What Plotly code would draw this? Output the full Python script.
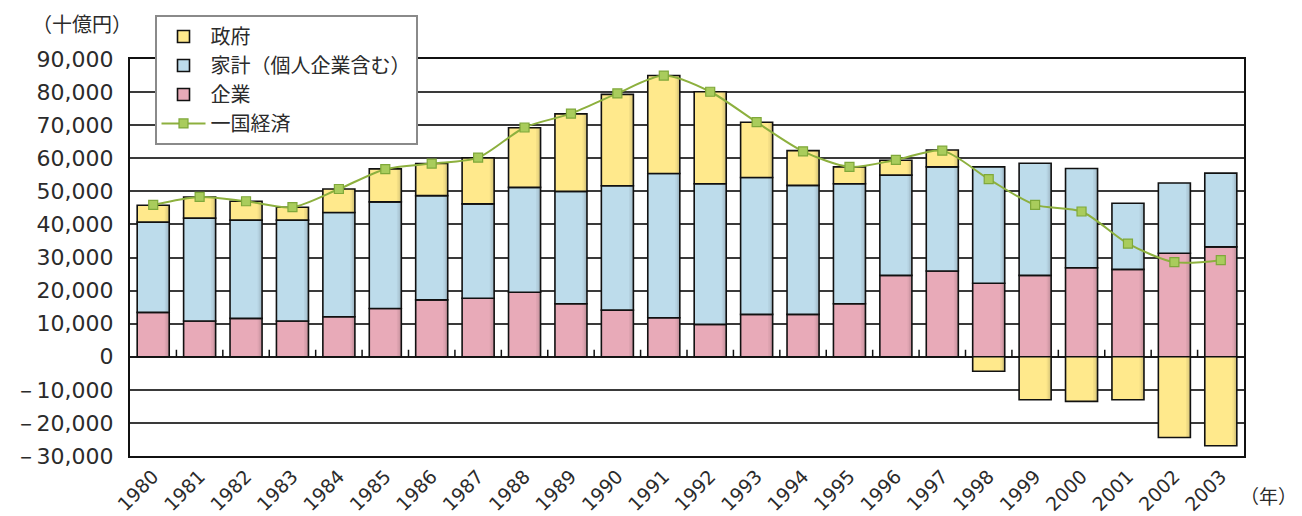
import plotly.graph_objects as go

# 年別の貯蓄投資差額（十億円）
years = [str(y) for y in range(1980, 2004)]

corporate = [13400, 10800, 11600, 10800, 12100, 14600, 17200, 17700, 19500, 16000,
             14100, 11800, 9800, 12800, 12800, 16000, 24600, 25900, 22200, 24600,
             26900, 26400, 31300, 33200]
household = [27300, 31100, 29700, 30500, 31500, 32200, 31500, 28500, 31700, 34000,
             37600, 43600, 42500, 41400, 39000, 36300, 30300, 31500, 35200, 33900,
             30000, 20000, 21200, 22300]
government = [5100, 6400, 5700, 3900, 7100, 10000, 9700, 13900, 18000, 23400,
              27600, 29600, 27800, 16700, 10500, 5100, 4500, 5100, -4400, -13000,
              -13500, -13000, -24400, -26900]
national = [45900, 48300, 47000, 45200, 50700, 56700, 58400, 60200, 69300, 73500,
            79600, 85000, 80100, 70900, 62100, 57400, 59500, 62300, 53700, 45900,
            43900, 34200, 28600, 29200]

y_ticks = list(range(-30000, 90001, 10000))
y_tick_text = [("－" if v < 0 else "") + f"{abs(v):,}" for v in y_ticks]

TEXT = "#2b2b2b"
NUM_FONT = "DejaVu Sans"
JP_FONT = "Noto Sans CJK JP"
OUTLINE = dict(color="#111111", width=1.6)
BARGAP = 0.31
HALF = (1 - BARGAP) / 2
X_RANGE = [-0.5, 23.5]

series = [
    ("企業", corporate, "#E8AAB8", 3),
    ("家計（個人企業含む）", household, "#BDDCEB", 2),
    ("政府", government, "#FFE98C", 1),
]

fig = go.Figure()

for name, vals, color, rank in series:
    fig.add_trace(go.Bar(x=years, y=vals, name=name, legendrank=rank,
                         marker=dict(color=color, line=OUTLINE)))

# soft shading along the right edge of each bar, built from a few
# translucent strips stacked on their own overlay axes
strips = [("x2", 0.095, 0.05), ("x3", 0.06, 0.07), ("x4", 0.03, 0.10)]
for axis, w, alpha in strips:
    for name, vals, color, rank in series:
        fig.add_trace(go.Bar(x=years, y=vals, xaxis=axis, width=w, offset=HALF - w,
                             marker=dict(color=f"rgba(40,40,40,{alpha})", line=dict(width=0)),
                             hoverinfo="skip", showlegend=False))

# the national total drawn on the topmost overlay axis
fig.add_trace(go.Scatter(x=years, y=national, name="一国経済", legendrank=4,
                         xaxis="x5", mode="lines+markers",
                         line=dict(color="#8DB03E", width=2, shape="spline", smoothing=0.8),
                         marker=dict(symbol="square", size=9, color="#A9CC5C",
                                     line=dict(color="#7FA83A", width=1.2))))

overlay = dict(type="category", categoryarray=years, range=X_RANGE,
               overlaying="x", showticklabels=False, showgrid=False,
               showline=False, zeroline=False, ticks="")

# small boundary ticks standing on the zero line, between neighbouring years
zero_ticks = [
    dict(type="line", xref="x", yref="y", x0=i + 0.5, x1=i + 0.5,
         ysizemode="pixel", yanchor=0, y0=0, y1=7,
         line=dict(color="#111111", width=1.5), layer="above")
    for i in range(len(years) - 1)
]

fig.update_layout(
    width=1302, height=516,
    margin=dict(l=130, r=58, t=59, b=60, autoexpand=False),
    paper_bgcolor="white", plot_bgcolor="white",
    barmode="relative", bargap=BARGAP,
    font=dict(family=JP_FONT, color=TEXT),
    showlegend=True,
    legend=dict(x=0.022, y=1.111, xanchor="left", yanchor="top",
                traceorder="normal", bgcolor="white",
                bordercolor="#8a8a8a", borderwidth=2,
                font=dict(family=JP_FONT, size=20, color=TEXT),
                tracegroupgap=0, itemwidth=44),
    xaxis=dict(type="category", categoryarray=years, range=X_RANGE, automargin=False,
               tickangle=-45, tickfont=dict(family=NUM_FONT, size=19, color=TEXT),
               ticks="", showgrid=False, showline=True, linecolor="#111111",
               linewidth=2, mirror=True, zeroline=False),
    xaxis2=dict(overlay),
    xaxis3=dict(overlay),
    xaxis4=dict(overlay),
    xaxis5=dict(overlay),
    yaxis=dict(range=[-30000, 90000], tickvals=y_ticks, ticktext=y_tick_text,
               automargin=False,
               tickfont=dict(family=NUM_FONT, size=22, color=TEXT),
               showgrid=True, gridcolor="#3a3a3a", gridwidth=2,
               zeroline=True, zerolinecolor="#1a1a1a", zerolinewidth=2,
               showline=True, linecolor="#111111", linewidth=2, mirror=True,
               ticks="", ticklabelstandoff=10),
    shapes=zero_ticks,
    annotations=[
        dict(text="（十億円）", x=-0.043, y=1.09, xref="paper", yref="paper",
             xanchor="center", yanchor="middle", showarrow=False,
             font=dict(family=JP_FONT, size=20, color=TEXT)),
        dict(text="（年）", x=1.049, y=-0.1, xref="paper", yref="paper",
             xanchor="right", yanchor="middle", showarrow=False,
             font=dict(family=JP_FONT, size=19, color=TEXT)),
    ],
)

fig.write_html("out.html")
